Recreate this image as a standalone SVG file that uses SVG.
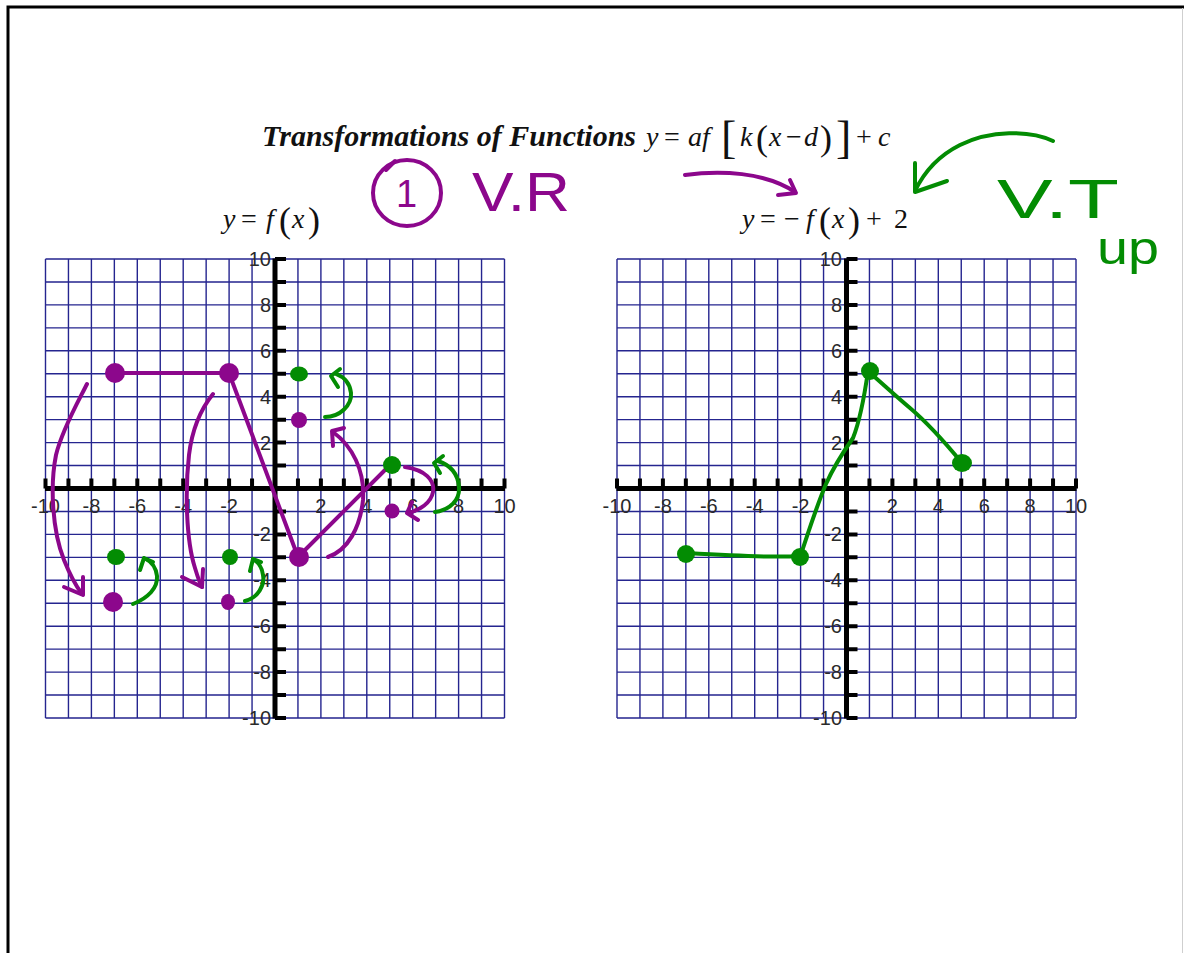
<svg xmlns="http://www.w3.org/2000/svg" xmlns:xlink="http://www.w3.org/1999/xlink" width="1184" height="953" viewBox="0 0 1184 953">
<style>
.grid{fill:none;stroke:#25258f;stroke-width:1.4}
.axis{fill:none;stroke:#000;stroke-width:5}
.tick{fill:none;stroke:#000;stroke-width:4}
.lbl{font-family:"Liberation Sans",Arial,sans-serif;font-size:20px;fill:#2a2a2a}
.xl{text-anchor:middle}
.yl{text-anchor:end}
.serif{font-family:"Liberation Serif","Times New Roman",serif;fill:#111}
.it{font-style:italic}
.pu{fill:none;stroke:#8c078c;stroke-width:4;stroke-linecap:round;stroke-linejoin:round}
.gr{fill:none;stroke:#038c03;stroke-width:4;stroke-linecap:round;stroke-linejoin:round}
.pud{fill:#8c078c}
.grd{fill:#038c03}
.hand{font-family:"Liberation Sans",Arial,sans-serif}
</style>
<defs>
<g id="gridbase">
<path class="grid" d="M-229.5 -229.5V229.5M-206.55 -229.5V229.5M-183.6 -229.5V229.5M-160.65 -229.5V229.5M-137.7 -229.5V229.5M-114.75 -229.5V229.5M-91.8 -229.5V229.5M-68.85 -229.5V229.5M-45.9 -229.5V229.5M-22.95 -229.5V229.5M22.95 -229.5V229.5M45.9 -229.5V229.5M68.85 -229.5V229.5M91.8 -229.5V229.5M114.75 -229.5V229.5M137.7 -229.5V229.5M160.65 -229.5V229.5M183.6 -229.5V229.5M206.55 -229.5V229.5M229.5 -229.5V229.5M-229.5 -229.5H229.5M-229.5 -206.55H229.5M-229.5 -183.6H229.5M-229.5 -160.65H229.5M-229.5 -137.7H229.5M-229.5 -114.75H229.5M-229.5 -91.8H229.5M-229.5 -68.85H229.5M-229.5 -45.9H229.5M-229.5 -22.95H229.5M-229.5 22.95H229.5M-229.5 45.9H229.5M-229.5 68.85H229.5M-229.5 91.8H229.5M-229.5 114.75H229.5M-229.5 137.7H229.5M-229.5 160.65H229.5M-229.5 183.6H229.5M-229.5 206.55H229.5M-229.5 229.5H229.5"/>
<path class="axis" d="M-230 0H230M0 -230V230"/>
<path class="tick" d="M-229.5 0V-10M-206.55 0V-10M-183.6 0V-10M-160.65 0V-10M-137.7 0V-10M-114.75 0V-10M-91.8 0V-10M-68.85 0V-10M-45.9 0V-10M-22.95 0V-10M22.95 0V-10M45.9 0V-10M68.85 0V-10M91.8 0V-10M114.75 0V-10M137.7 0V-10M160.65 0V-10M183.6 0V-10M206.55 0V-10M229.5 0V-10M0 -229.5H11M0 -206.55H11M0 -183.6H11M0 -160.65H11M0 -137.7H11M0 -114.75H11M0 -91.8H11M0 -68.85H11M0 -45.9H11M0 -22.95H11M0 22.95H11M0 45.9H11M0 68.85H11M0 91.8H11M0 114.75H11M0 137.7H11M0 160.65H11M0 183.6H11M0 206.55H11M0 229.5H11"/>
</g>
</defs>

<g id="page">
<rect x="0" y="0" width="1184" height="953" fill="#fff"/>
<rect x="8" y="7" width="1200" height="970" fill="#fff" stroke="#000" stroke-width="3"/>
<line x1="1182.5" y1="8" x2="1182.5" y2="953" stroke="#cfcfcf" stroke-width="1"/>
</g>

<g id="title">
<text class="serif" x="262" y="146" font-size="30" font-weight="bold" font-style="italic">Transformations of Functions</text>
<text class="serif it" x="646" y="146" font-size="28">y</text>
<text class="serif" x="664" y="146" font-size="28">=</text>
<text class="serif it" x="688" y="146" font-size="28">af</text>
<text class="serif" x="721" y="153" font-size="46">[</text>
<text class="serif it" x="740" y="146" font-size="28">k</text>
<text class="serif" x="756" y="150" font-size="36">(</text>
<text class="serif it" x="769" y="146" font-size="28">x</text>
<text class="serif" x="786" y="146" font-size="28">−</text>
<text class="serif it" x="804" y="146" font-size="28">d</text>
<text class="serif" x="820" y="150" font-size="36">)</text>
<text class="serif" x="836" y="153" font-size="46">]</text>
<text class="serif" x="856" y="146" font-size="28">+</text>
<text class="serif it" x="878" y="146" font-size="28">c</text>
</g>

<g id="label-left">
<text class="serif it" x="223" y="228" font-size="28">y</text>
<text class="serif" x="241" y="228" font-size="28">=</text>
<text class="serif it" x="266" y="228" font-size="28">f</text>
<text class="serif" x="279" y="232" font-size="36">(</text>
<text class="serif it" x="292" y="228" font-size="28">x</text>
<text class="serif" x="308" y="232" font-size="36">)</text>
</g>

<g id="label-right">
<text class="serif it" x="742" y="228" font-size="28">y</text>
<text class="serif" x="760" y="228" font-size="28">=</text>
<text class="serif" x="784" y="228" font-size="28">−</text>
<text class="serif it" x="806" y="228" font-size="28">f</text>
<text class="serif" x="819" y="232" font-size="36">(</text>
<text class="serif it" x="832" y="228" font-size="28">x</text>
<text class="serif" x="848" y="232" font-size="36">)</text>
<text class="serif" x="866" y="228" font-size="28">+</text>
<text class="serif" x="894" y="228" font-size="28">2</text>
</g>

<g id="graph-left">
<use xlink:href="#gridbase" href="#gridbase" x="275" y="488.5"/>
<g class="lbl xl">
<text x="45.5" y="513">-10</text><text x="91.4" y="513">-8</text><text x="137.3" y="513">-6</text><text x="183.2" y="513">-4</text><text x="229.1" y="513">-2</text>
<text x="320.9" y="513">2</text><text x="366.8" y="513">4</text><text x="412.7" y="513">6</text><text x="458.6" y="513">8</text><text x="504.5" y="513">10</text>
</g>
<g class="lbl yl">
<text x="271" y="266">10</text><text x="271" y="312">8</text><text x="271" y="358">6</text><text x="271" y="404">4</text><text x="271" y="450">2</text>
<text x="271" y="541">-2</text><text x="271" y="587">-4</text><text x="271" y="633">-6</text><text x="271" y="679">-8</text><text x="271" y="725">-10</text>
</g>
<path class="pu" d="M114,373 L229,373 L298,557 L390,465"/>
<g class="pud">
<circle cx="115" cy="373" r="10"/><circle cx="229" cy="373" r="10"/><circle cx="299" cy="557" r="10"/>
<circle cx="299" cy="420" r="8"/><circle cx="392" cy="511" r="7.5"/><circle cx="113" cy="602" r="10"/><ellipse cx="228" cy="602" rx="7" ry="8"/>
</g>
<g class="grd">
<ellipse cx="116" cy="557" rx="9" ry="8"/><circle cx="230" cy="557" r="8"/><ellipse cx="299" cy="374" rx="9" ry="7.5"/><circle cx="392" cy="465" r="9"/>
</g>
</g>

<g id="graph-right">
<use xlink:href="#gridbase" href="#gridbase" x="846.5" y="488.5"/>
<g class="lbl xl">
<text x="617" y="513">-10</text><text x="662.9" y="513">-8</text><text x="708.8" y="513">-6</text><text x="754.7" y="513">-4</text><text x="800.6" y="513">-2</text>
<text x="892.4" y="513">2</text><text x="938.3" y="513">4</text><text x="984.2" y="513">6</text><text x="1030.1" y="513">8</text><text x="1076" y="513">10</text>
</g>
<g class="lbl yl">
<text x="842" y="266">10</text><text x="842" y="312">8</text><text x="842" y="358">6</text><text x="842" y="404">4</text><text x="842" y="450">2</text>
<text x="842" y="541">-2</text><text x="842" y="587">-4</text><text x="842" y="633">-6</text><text x="842" y="679">-8</text><text x="842" y="725">-10</text>
</g>
<path class="gr" d="M686,553 C720,555 770,558 799,556"/>
<path class="gr" d="M800,557 C806,540 815,510 826,484 C834,466 846,448 853,438 C861,418 865,392 868,371"/>
<path class="gr" d="M869,372 C885,386 898,398 910,408 C930,425 948,446 962,463"/>
<g class="grd">
<circle cx="686" cy="554" r="9"/><circle cx="800" cy="557" r="9"/><circle cx="870" cy="371" r="9"/><ellipse cx="962" cy="463" rx="10" ry="9"/>
</g>
</g>

<g id="annotation-vr">
<ellipse class="pu" cx="407" cy="193" rx="34" ry="33"/>
<path class="pu" d="M395,161 L386,170"/>
<text class="hand" x="396" y="207" font-size="38" fill="#8c078c">1</text>
<text class="hand" x="472" y="211" font-size="56" fill="#8c078c" textLength="98" lengthAdjust="spacingAndGlyphs">V.R</text>
</g>

<g id="annotation-vt">
<text class="hand" x="997" y="218" font-size="56" fill="#038c03" textLength="122" lengthAdjust="spacingAndGlyphs">V.T</text>
<text class="hand" x="1097" y="264" font-size="46" fill="#038c03" textLength="62" lengthAdjust="spacingAndGlyphs">up</text>
</g>

<g id="connectors">
<path class="pu" d="M685,175 C720,170 765,172 795,192"/>
<path class="pu" d="M778,195 L796,193 L790,180"/>
<path class="gr" d="M1053,141 C1030,130 990,130 960,145 C940,155 925,170 915,191"/>
<path class="gr" d="M915,163 L915,192 L947,181"/>

<path class="pu" d="M87,384 C78,402 62,430 56,455 C50,485 52,530 64,560 C70,575 76,586 82,594"/>
<path class="pu" d="M64,587 L83,595 L83,577"/>
<path class="pu" d="M213,394 C200,410 192,430 189,455 C185,490 186,540 195,568 C198,578 200,584 202,587"/>
<path class="pu" d="M182,577 L202,587 L203,569"/>
<path class="pu" d="M328,557 C348,550 360,528 363,500 C365,470 352,446 333,432"/>
<path class="pu" d="M344,428 L332,431 L333,446"/>
<path class="pu" d="M405,467 C425,470 435,480 433,492 C431,503 420,510 408,513"/>
<path class="pu" d="M412,502 L407,513 L418,520"/>

<path class="gr" d="M133,604 C148,598 158,588 157,576 C156,568 152,562 146,559"/>
<path class="gr" d="M140,570 L144,558 L153,562"/>
<path class="gr" d="M245,601 C258,598 265,585 263,575 C262,567 258,562 253,559"/>
<path class="gr" d="M250,571 L253,559 L261,562"/>
<path class="gr" d="M325,417 C340,417 352,405 351,393 C350,383 344,377 336,374"/>
<path class="gr" d="M340,369 L331,376 L338,387"/>
<path class="gr" d="M435,512 C450,510 460,500 459,487 C458,474 450,465 438,461"/>
<path class="gr" d="M443,456 L434,463 L440,473"/>
</g>
</svg>
